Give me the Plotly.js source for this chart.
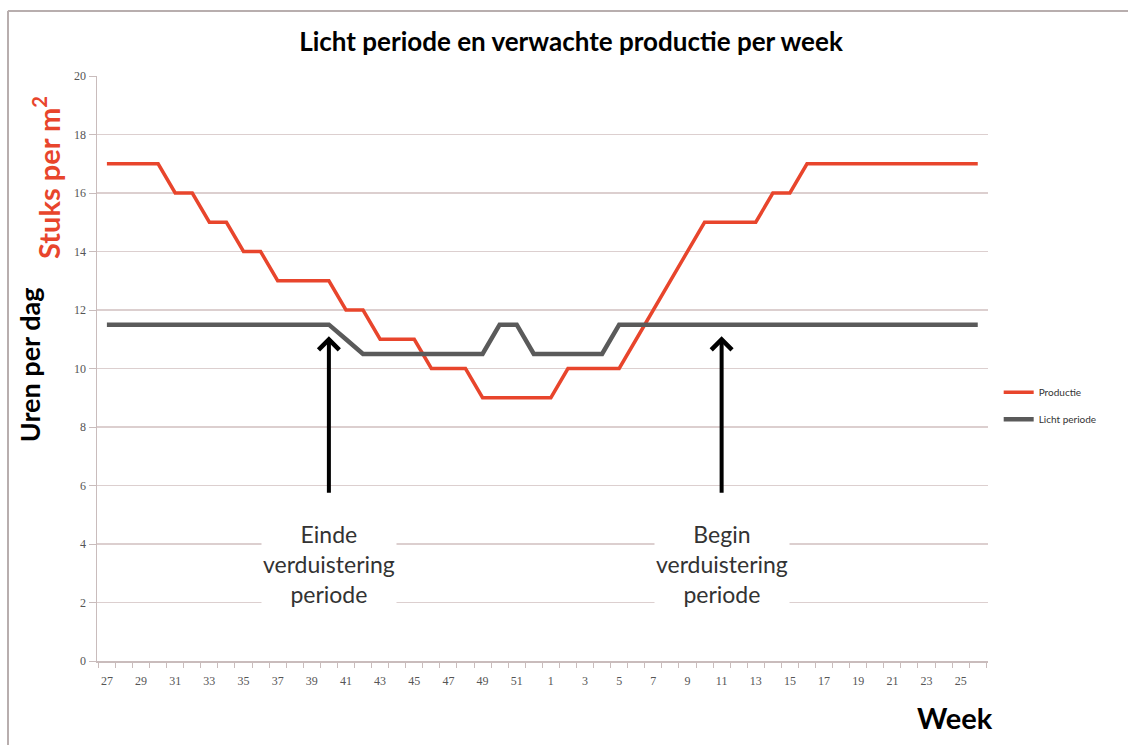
<!DOCTYPE html>
<html>
<head>
<meta charset="utf-8">
<script src="https://cdn.plot.ly/plotly-3.0.1.min.js"></script>
<style>html,body{margin:0;padding:0;background:#fff;}#chart{width:1128px;height:745px;}</style>
</head>
<body>
<div id="chart"></div>
<script>
// Weeks (categories)
const weeks = ['27','28','29','30','31','32','33','34','35','36','37','38','39','40','41','42','43','44','45','46','47','48','49','50','51','52',
               '1','2','3','4','5','6','7','8','9','10','11','12','13','14','15','16','17','18','19','20','21','22','23','24','25','26'];
// Productie (stuks per m2)
const productie = [17,17,17,17,16,16,15,15,14,14,13,13,13,13,12,12,11,11,11,10,10,10,9,9,9,9,
                   9,10,10,10,10,11,12,13,14,15,15,15,15,16,16,17,17,17,17,17,17,17,17,17,17,17];
// Licht periode (uren per dag)
const licht = [11.5,11.5,11.5,11.5,11.5,11.5,11.5,11.5,11.5,11.5,11.5,11.5,11.5,11.5,11,10.5,10.5,10.5,10.5,10.5,10.5,10.5,10.5,11.5,11.5,10.5,
               10.5,10.5,10.5,10.5,11.5,11.5,11.5,11.5,11.5,11.5,11.5,11.5,11.5,11.5,11.5,11.5,11.5,11.5,11.5,11.5,11.5,11.5,11.5,11.5,11.5,11.5];
const seriesNames = ['Productie', 'Licht periode'];
const arrowWeeks = ['40', '11'];
const arrowFrom = 5.7, arrowTo = 11.1;
const arrowTexts = ['Einde<br>verduistering<br>periode', 'Begin<br>verduistering<br>periode'];

const gridCol = '#dccfcf';
const traces = [
  {x: weeks, y: productie, name: seriesNames[0], type: 'scatter', mode: 'lines',
   line: {color: '#e8452c', width: 3.5}, legendgroup: 'a'},
  {x: weeks, y: licht, name: seriesNames[1], type: 'scatter', mode: 'lines',
   line: {color: '#5a5a5a', width: 4.5}, legendgroup: 'b'}
];

const annotations = [];
arrowWeeks.forEach((w, i) => {
  const xi = weeks.indexOf(w);
  annotations.push({x: xi, y: arrowTo, xref: 'x', yref: 'y', ax: 0, ay: (arrowTo - arrowFrom) * 29.25,
    showarrow: true, arrowhead: 4, arrowwidth: 4, arrowsize: 1, arrowcolor: '#000', text: ''});
  annotations.push({x: xi, y: 3.3, xref: 'x', yref: 'y', text: arrowTexts[i], showarrow: false,
    xanchor: 'center', yanchor: 'middle',
    font: {family: 'Lato', size: 23, color: '#333'}, bgcolor: '#fff', align: 'center'});
});
annotations.push({x: -0.075, y: 0.506, xref: 'paper', yref: 'paper', text: 'Uren per dag', textangle: -90,
  xanchor: 'center', yanchor: 'middle',
  showarrow: false, font: {family: 'Lato', size: 27, color: '#000', weight: 'bold'}});
annotations.push({x: -0.057, y: 0.826, xref: 'paper', yref: 'paper', text: 'Stuks per m<sup>2</sup>', textangle: -90,
  xanchor: 'center', yanchor: 'middle',
  showarrow: false, font: {family: 'Lato', size: 29, color: '#e8452c', weight: 'bold'}});
annotations.push({x: 0.963, y: -0.096, xref: 'paper', yref: 'paper', text: 'Week',
  xanchor: 'center', yanchor: 'middle',
  showarrow: false, font: {family: 'Lato', size: 29, color: '#000', weight: 'bold'}});

const layout = {
  width: 1128, height: 745,
  margin: {l: 97, r: 140, t: 76, b: 84},
  paper_bgcolor: '#fff', plot_bgcolor: '#fff',
  title: {text: 'Licht periode en verwachte productie per week', x: 571/1128, xref: 'container', xanchor: 'center',
          y: 1 - 42/745, yanchor: 'middle',
          font: {family: 'Lato', size: 26, color: '#000', weight: 'bold'}},
  showlegend: true,
  legend: {x: 1.012, xanchor: 'left', y: 0.484, yanchor: 'top', font: {family: 'Lato', size: 10, color: '#333'},
           traceorder: 'grouped', tracegroupgap: 8, bgcolor: 'rgba(0,0,0,0)'},
  xaxis: {type: 'category', range: [-0.58, 51.6], tickmode: 'linear', dtick: 1, ticklabelstep: 2, tickangle: 0,
          tickson: 'boundaries', ticks: 'outside', ticklen: 5, tickcolor: '#c9bcbc', ticklabelstandoff: 8,
          showline: true, linecolor: '#c9bcbc', linewidth: 1.5, showgrid: false, zeroline: false,
          tickfont: {family: 'Liberation Serif', size: 12, color: '#555'}},
  yaxis: {range: [0, 20], dtick: 2, tick0: 0, ticks: 'outside', ticklen: 7, tickcolor: '#c9bcbc',
          showline: true, linecolor: '#c9bcbc', linewidth: 1.5, showgrid: true, gridcolor: gridCol, gridwidth: 1.2,
          zeroline: false, tickfont: {family: 'Liberation Serif', size: 12, color: '#555'}},
  annotations: annotations,
  shapes: [
    {type: 'line', xref: 'paper', yref: 'paper', x0: -0.1, x1: 1.2, y0: 1 + 65/585, y1: 1 + 65/585,
     line: {color: '#b8aeae', width: 2}},
    {type: 'line', xref: 'paper', yref: 'paper', x0: -89/891, x1: -89/891, y0: 1 + 65/585, y1: -0.2,
     line: {color: '#b8aeae', width: 2}}
  ]
};

Plotly.newPlot('chart', traces, layout, {displayModeBar: false, staticPlot: true});
</script>
</body>
</html>
